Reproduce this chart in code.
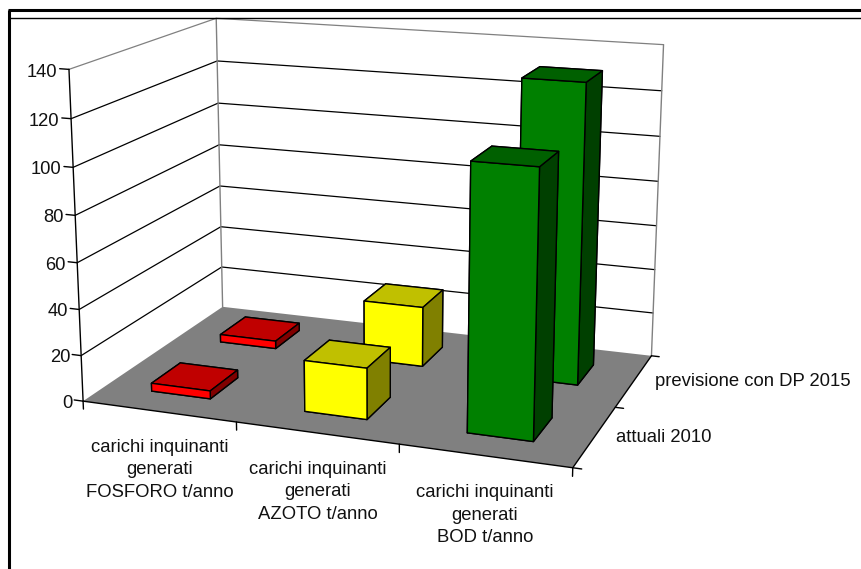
import numpy as np, seaborn as sns, matplotlib
matplotlib.use('Agg')
import matplotlib.pyplot as plt
from matplotlib.lines import Line2D
from mpl_toolkits.mplot3d import proj3d
from mpl_toolkits.mplot3d.art3d import Poly3DCollection

sns.set_theme(style='white')
plt.rcParams['font.family'] = ['Liberation Sans', 'DejaVu Sans']

categories = ['carichi inquinanti\ngenerati\nFOSFORO t/anno', 'carichi inquinanti\ngenerati\nAZOTO t/anno', 'carichi inquinanti\ngenerati\nBOD t/anno']
series = ['attuali 2010', 'previsione con DP 2015']
attuali = [3.5, 22, 111]
previsione = [3.5, 27, 131]
zticks = [0, 20, 40, 60, 80, 100, 120, 140]
face = [('#FF0000', '#C00000', '#800000'), ('#FFFF00', '#C0C000', '#808000'), ('#008000', '#006000', '#004000')]

W, H = 862, 569
XM, YM, ZM = len(categories), len(series), zticks[-1]
fig = plt.figure(figsize=(W/100, H/100), dpi=100)
ax = fig.add_axes([0.2267, 0.2932, 0.4098, 0.6209], projection='3d')
ax.set_proj_type('persp', focal_length=1)
ax.autoscale(False)
ax.view_init(elev=14.97, azim=-69.76, roll=0.02)
ax.set_box_aspect((1.497, 0.990, 1), zoom=1.876)
ax.computed_zorder = False
ax.set_xticks([]); ax.set_yticks([]); ax.set_zticks([])
ax.set_axis_off()
ax.set_xlim(0, XM, view_margin=0); ax.set_ylim(0, YM, view_margin=0); ax.set_zlim(0, ZM, view_margin=0)

def poly(v, fc, ec, z):
    c = Poly3DCollection([v], facecolors=fc, edgecolors=ec, linewidths=1.0, zorder=z)
    ax.add_collection3d(c, autolim=False)
poly([(0,0,0),(XM,0,0),(XM,YM,0),(0,YM,0)], '#808080', 'none', 1)
for v in zticks[1:]:
    col = '#808080' if v == ZM else 'black'
    ax.plot([0,0,XM],[0,YM,YM],[v,v,v], color=col, lw=0.9, zorder=2)
ax.plot([0,0],[YM,YM],[0,ZM], color='#808080', lw=1, zorder=2)
ax.plot([XM,XM],[YM,YM],[0,ZM], color='#808080', lw=1, zorder=2)
ax.plot([0,0],[0,0],[0,ZM], color='black', lw=1, zorder=3)
ax.plot([0,XM,XM],[0,0,YM],[0,0,0], color='black', lw=1, zorder=3)
M = ax.get_proj()
for v in zticks:
    ax.plot([0,-0.06],[0,0],[v,v], color='black', lw=1, zorder=3)
    xp, yp, _ = proj3d.proj_transform(-0.075, 0, v-0.7, M)
    ax.text2D(xp, yp, str(v), transform=ax.transData, ha='right', va='center_baseline',
              fontsize=13.2, color='#111111', zorder=3, clip_on=False)
for i in range(XM+1):
    ax.plot([i,i],[0,0],[0,-3.5], color='black', lw=1, zorder=3)
for j in range(YM+1):
    ax.plot([XM,XM+0.05],[j,j],[0,0], color='black', lw=1, zorder=3)
w, dp = 0.39, 0.40
z = 10
for j, vals in reversed(list(enumerate([attuali, previsione]))):
    for i, v in enumerate(vals):
        fr, tp, sd = face[i]
        ax.bar3d(i+.5-w/2, j+.5-dp/2, 0, w, dp, v, color=[fr, tp, fr, fr, sd, sd], edgecolor='black', linewidth=1, shade=False, zorder=z)
        z += 1

def ftext(x, y, t, **k):
    fig.text(x/W, 1-y/H, t, fontsize=13.3, color='#111111', va='center', **k)
ftext(160, 470, categories[0], ha='center', linespacing=1.45)
ftext(318, 492, categories[1], ha='center', linespacing=1.45)
ftext(485, 515, categories[2], ha='center', linespacing=1.45)
ftext(616, 438, series[0], ha='left')
ftext(655, 382, series[1], ha='left')
for xx, yy, lw in [((8,W),(10,10),2.2), ((9,W),(17.5,17.5),1), ((9,9),(10,H),2.2)]:
    fig.add_artist(Line2D([a_/W for a_ in xx],[1-b_/H for b_ in yy], color='black', lw=lw, solid_capstyle='butt'))
ax.set_xlim(0, XM, view_margin=0); ax.set_ylim(0, YM, view_margin=0); ax.set_zlim(0, ZM, view_margin=0)
for art in ax.get_children():
    art.set_clip_on(False)
fig.savefig('out.png', dpi=100)
